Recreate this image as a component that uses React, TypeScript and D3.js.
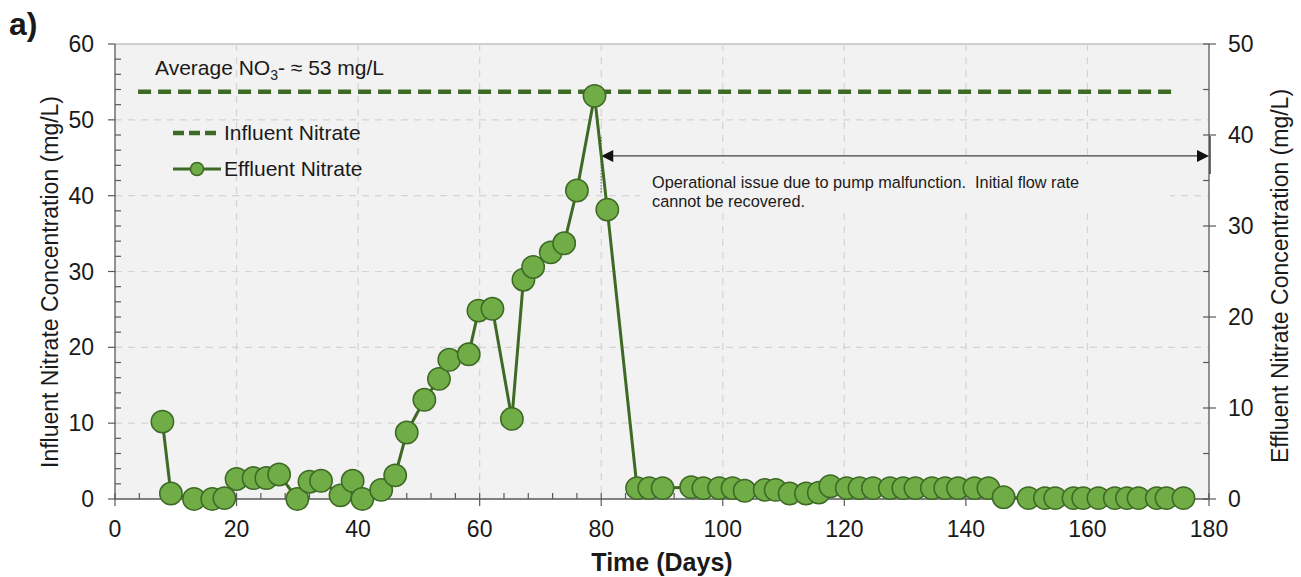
import React from "react";
import { scaleLinear, line, range } from "d3";

// effluent nitrate (mg/L)
const days = [
  7.8, 9.2, 13.0, 16.0, 18.0, 20.0, 22.8, 24.9, 27.0, 30.0, 32.0, 33.9, 37.1, 39.1, 40.7, 43.8,
  46.1, 48.0, 50.9, 53.3, 55.0, 58.2, 59.8, 62.1, 65.3, 67.2, 68.8, 71.7, 73.9, 76.0, 78.9, 81.0,
  85.9, 87.9, 90.1, 94.8, 96.8, 99.4, 101.6, 103.6, 106.9, 108.7, 111.0, 113.7, 115.8, 117.7,
  120.4, 122.5, 124.7, 127.5, 129.7, 131.7, 134.4, 136.6, 138.7, 141.4, 143.7, 146.2,
  150.3, 153.0, 154.7, 157.7, 159.3, 161.8, 164.5, 166.5, 168.4, 171.4, 173.0, 175.8,
];
const effluent = [
  8.5, 0.6, 0, 0, 0.1, 2.2, 2.3, 2.3, 2.7, 0, 1.9, 2.0, 0.4, 2.0, 0, 1.0,
  2.6, 7.3, 10.9, 13.2, 15.3, 15.9, 20.7, 20.9, 8.8, 24.1, 25.5, 27.1, 28.1, 33.9, 44.3, 31.8,
  1.2, 1.2, 1.2, 1.3, 1.2, 1.2, 1.2, 0.9, 1.0, 1.0, 0.6, 0.6, 0.7, 1.4,
  1.2, 1.2, 1.2, 1.2, 1.2, 1.2, 1.2, 1.2, 1.2, 1.2, 1.2, 0.2,
  0.1, 0.1, 0.1, 0.1, 0.1, 0.1, 0.1, 0.1, 0.1, 0.1, 0.1, 0.1,
];

// influent average, left axis (mg/L)
const influentDays = [3.8, 174.7];
const influentAvg = 53.7;

const xTicks = range(0, 181, 20);
const leftTicks = range(0, 61, 10);
const rightTicks = range(0, 51, 10);

// annotation: pump issue from day 80 to the end (right axis units)
const issueStart = 80;
const issueEnd = 180;
const issueLevel = 37.7;

const W = 1301;
const H = 577;
const font = "'Liberation Sans', Arial, sans-serif";
const dark = "#3e6a25";
const fillGreen = "#70ad47";
const axisCol = "#595959";
const ink = "#1a1a1a";

export default function App() {
  const x = scaleLinear().domain([0, 180]).range([115, 1209]);
  const yL = scaleLinear().domain([0, 60]).range([499, 44]);
  const yR = scaleLinear().domain([0, 50]).range([499, 44]);

  const pts = days.map((d, i) => [d, effluent[i]] as [number, number]);
  const effLine = line<[number, number]>()
    .x((d) => x(d[0]))
    .y((d) => yR(d[1]));

  const [x0, x1] = x.range();
  const [y0, y1] = yL.range();

  const arrowY = yR(issueLevel);
  const ax0 = x(issueStart);
  const ax1 = x(issueEnd);

  return (
    <svg
      width={W}
      height={H}
      style={{ position: "absolute", left: 0, top: 0, background: "#fff" }}
      fontFamily={font}
    >
      {/* plot area */}
      <rect x={x0} y={y1} width={x1 - x0} height={y0 - y1} fill="#f2f2f2" />
      <line x1={x0} x2={x1} y1={y1} y2={y1} stroke="#a6a6a6" strokeWidth={1.2} />

      {/* grid */}
      {xTicks.slice(1, -1).map((t) => (
        <line key={"gx" + t} x1={x(t)} x2={x(t)} y1={y1} y2={y0} stroke="#d4d4d4" strokeWidth={1.2} strokeDasharray="7,6" />
      ))}
      {leftTicks.slice(1, -1).map((t) => (
        <line key={"gy" + t} x1={x0} x2={x1} y1={yL(t)} y2={yL(t)} stroke="#d4d4d4" strokeWidth={1.2} strokeDasharray="7,6" />
      ))}

      {/* annotation text box covers grid */}
      <rect x={640} y={164} width={530} height={46} fill="#f2f2f2" />
      <text x={652} y={188} fontSize={16.3} fill={ink} style={{ whiteSpace: "pre" }}>
        {"Operational issue due to pump malfunction.  Initial flow rate"}
      </text>
      <text x={652} y={207} fontSize={16.3} fill={ink}>
        cannot be recovered.
      </text>

      {/* axes */}
      <line x1={x0} x2={x1} y1={y0} y2={y0} stroke={axisCol} strokeWidth={1.3} />
      <line x1={x0} x2={x0} y1={y1} y2={y0} stroke={axisCol} strokeWidth={1.3} />
      <line x1={x1} x2={x1} y1={y1} y2={y0} stroke={axisCol} strokeWidth={1.3} />

      {/* x ticks */}
      {range(0, 181, 4).map((t) =>
        t % 20 === 0 ? (
          <line key={"xt" + t} x1={x(t)} x2={x(t)} y1={y0 - 6} y2={y0 + 7} stroke={axisCol} strokeWidth={1.2} />
        ) : (
          <line key={"xt" + t} x1={x(t)} x2={x(t)} y1={y0 - 6} y2={y0} stroke={axisCol} strokeWidth={1.2} />
        )
      )}
      {xTicks.map((t) => (
        <text key={"xl" + t} x={x(t)} y={y0 + 38} fontSize={23} textAnchor="middle" fill={ink}>
          {t}
        </text>
      ))}

      {/* left ticks */}
      {range(0, 61, 2).map((t) =>
        t % 10 === 0 ? (
          <line key={"lt" + t} x1={x0 - 7} x2={x0} y1={yL(t)} y2={yL(t)} stroke={axisCol} strokeWidth={1.2} />
        ) : (
          <line key={"lt" + t} x1={x0} x2={x0 + 6} y1={yL(t)} y2={yL(t)} stroke={axisCol} strokeWidth={1.2} />
        )
      )}
      {leftTicks.map((t) => (
        <text key={"ll" + t} x={x0 - 21} y={yL(t) + 8} fontSize={23} textAnchor="end" fill={ink}>
          {t}
        </text>
      ))}

      {/* right ticks */}
      {range(0, 51, 5).map((t) =>
        t % 10 === 0 ? (
          <line key={"rt" + t} x1={x1 - 6} x2={x1 + 7} y1={yR(t)} y2={yR(t)} stroke={axisCol} strokeWidth={1.2} />
        ) : (
          <line key={"rt" + t} x1={x1 - 6} x2={x1} y1={yR(t)} y2={yR(t)} stroke={axisCol} strokeWidth={1.2} />
        )
      )}
      {rightTicks.map((t) => (
        <text key={"rl" + t} x={x1 + 19} y={yR(t) + 8} fontSize={23} textAnchor="start" fill={ink}>
          {t}
        </text>
      ))}

      {/* axis titles */}
      <text transform={`translate(58,282) rotate(-90)`} fontSize={23} textAnchor="middle" fill={ink}>
        Influent Nitrate Concentration (mg/L)
      </text>
      <text transform={`translate(1288,276) rotate(-90)`} fontSize={23} textAnchor="middle" fill={ink}>
        Effluent Nitrate Concentration (mg/L)
      </text>
      <text x={(x0 + x1) / 2} y={571} fontSize={25} fontWeight="bold" textAnchor="middle" fill={ink}>
        Time (Days)
      </text>
      <text x={9} y={35} fontSize={32} fontWeight="bold" fill={ink}>
        a)
      </text>

      {/* influent average */}
      <line
        x1={x(influentDays[0])}
        x2={x(influentDays[1])}
        y1={yL(influentAvg)}
        y2={yL(influentAvg)}
        stroke={dark}
        strokeWidth={4.5}
        strokeDasharray="13,7"
      />
      <text x={155} y={75} fontSize={21} fill={ink}>
        Average NO
        <tspan fontSize={14} dy={5}>3</tspan>
        <tspan dy={-5}>- ≈ 53 mg/L</tspan>
      </text>

      {/* legend */}
      <line x1={173} x2={221} y1={133} y2={133} stroke={dark} strokeWidth={4.5} strokeDasharray="11,5" />
      <text x={224} y={140} fontSize={21} fill={ink}>Influent Nitrate</text>
      <line x1={173} x2={221} y1={169} y2={169} stroke={dark} strokeWidth={3} />
      <circle cx={197} cy={169} r={6.5} fill={fillGreen} stroke={dark} strokeWidth={1.5} />
      <text x={224} y={176} fontSize={21} fill={ink}>Effluent Nitrate</text>

      {/* arrow for pump issue */}
      <line x1={ax0} x2={ax0} y1={arrowY - 19} y2={arrowY + 37} stroke="#8c8c8c" strokeWidth={1.5} strokeDasharray="1.5,1.5" />
      <line x1={ax0 + 10} x2={ax1 - 10} y1={arrowY} y2={arrowY} stroke="#404040" strokeWidth={1.3} />
      <path d={`M${ax0},${arrowY} l12,-6 v12 z`} fill="#111" />
      <path d={`M${ax1},${arrowY} l-12,-6 v12 z`} fill="#111" />
      <line x1={ax1 + 1} x2={ax1 + 1} y1={arrowY - 20} y2={arrowY + 18} stroke="#404040" strokeWidth={1.5} />

      {/* effluent series */}
      <path d={effLine(pts) || ""} fill="none" stroke={dark} strokeWidth={3} strokeLinejoin="round" />
      {pts.map((p, i) => (
        <circle key={i} cx={x(p[0])} cy={yR(p[1])} r={11.2} fill={fillGreen} stroke={dark} strokeWidth={1.5} />
      ))}
    </svg>
  );
}
